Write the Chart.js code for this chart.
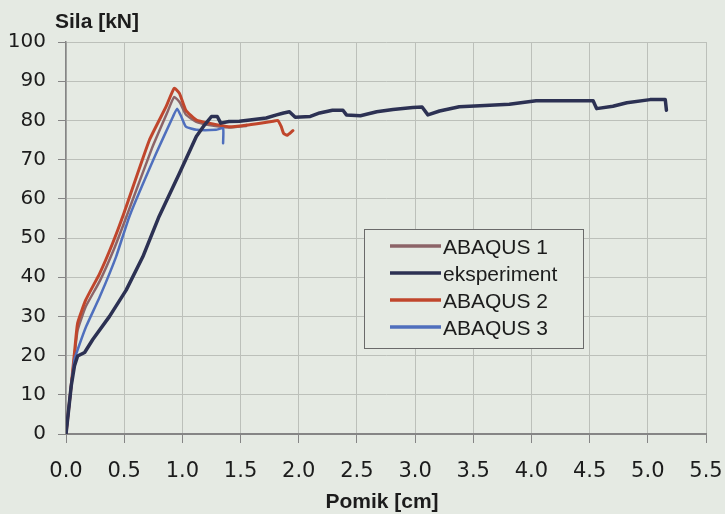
<!DOCTYPE html>
<html><head><meta charset="utf-8">
<script src="https://cdn.jsdelivr.net/npm/chart.js@4/dist/chart.umd.min.js"></script>
<style>html,body{margin:0;padding:0;background:#e5eae3;} canvas{display:block}</style>
</head><body>
<canvas id="c" width="725" height="514"></canvas>
<script>
// ---- data ----
const seriesNames = ['ABAQUS 1', 'eksperiment', 'ABAQUS 2', 'ABAQUS 3'];

const abaqus1X = [0, 0.04, 0.073, 0.10, 0.17, 0.29, 0.41, 0.52, 0.74, 0.87, 0.93, 0.98, 1.03, 1.12, 1.23, 1.40, 1.55];
const abaqus1Y = [0, 11, 20, 26.5, 32.5, 39, 47, 55.5, 73, 82, 86, 84.5, 81.5, 79.6, 78.8, 78.2, 78.6];

const expX = [0, 0.045, 0.073, 0.10, 0.16, 0.23, 0.374, 0.517, 0.66, 0.80, 0.975, 1.12, 1.19, 1.25, 1.30, 1.33, 1.40, 1.49, 1.58, 1.72, 1.81, 1.87, 1.92, 1.97, 2.10, 2.18, 2.29, 2.38, 2.41, 2.53, 2.67, 2.81, 2.98, 3.06, 3.11, 3.21, 3.38, 3.60, 3.81, 4.04, 4.30, 4.53, 4.56, 4.70, 4.82, 5.02, 5.15, 5.16];
const expY = [0, 12.3, 17.4, 19.9, 20.8, 24.1, 30, 36.7, 45.2, 55.5, 66.5, 75.9, 78.8, 81, 81, 79.3, 79.7, 79.8, 80.1, 80.6, 81.4, 81.9, 82.2, 80.8, 81, 81.9, 82.6, 82.6, 81.4, 81.2, 82.2, 82.8, 83.3, 83.4, 81.4, 82.4, 83.5, 83.8, 84.1, 85, 85, 85, 83, 83.6, 84.5, 85.3, 85.3, 82.6];

const abaqus2X = [0, 0.04, 0.073, 0.10, 0.17, 0.29, 0.40, 0.50, 0.717, 0.86, 0.93, 0.975, 1.03, 1.12, 1.23, 1.40, 1.55, 1.67, 1.78, 1.82, 1.85, 1.87, 1.90, 1.95];
const abaqus2Y = [0, 11, 20.8, 28.3, 34.2, 41, 48.6, 56.5, 75, 83.5, 88.2, 86.9, 82.6, 80.1, 79.3, 78.4, 78.8, 79.3, 79.8, 80, 78.4, 76.7, 76.2, 77.4];

const abaqus3X = [0, 0.04, 0.073, 0.10, 0.173, 0.29, 0.43, 0.545, 0.775, 0.92, 0.955, 0.99, 1.03, 1.12, 1.29, 1.35, 1.35];
const abaqus3Y = [0, 11, 19, 21.5, 27.4, 35, 45.2, 55.5, 71.6, 81, 83, 81, 78.4, 77.6, 77.6, 78, 74.2];

const xTickLabels = ['0.0', '0.5', '1.0', '1.5', '2.0', '2.5', '3.0', '3.5', '4.0', '4.5', '5.0', '5.5'];
const yTickLabels = ['0', '10', '20', '30', '40', '50', '60', '70', '80', '90', '100'];
const xAxisTitle = 'Pomik [cm]';
const yAxisTitle = 'Sila [kN]';

// ---- build ----
function pts(xs, ys) { return xs.map((x, i) => ({x: x, y: ys[i]})); }

const BG = '#e5eae3';
const TXT = '#1c1c1c';
const AXIS = '#858585';
const GRID = '#bcc0ba';

const datasets = [
  {label: seriesNames[0], data: pts(abaqus1X, abaqus1Y), borderColor: '#8c6468', borderWidth: 2.5, order: 3, tension: 0.15},
  {label: seriesNames[1], data: pts(expX, expY), borderColor: '#2c3153', borderWidth: 3.5, order: 0, tension: 0},
  {label: seriesNames[2], data: pts(abaqus2X, abaqus2Y), borderColor: '#c0462c', borderWidth: 3, order: 2, tension: 0.15},
  {label: seriesNames[3], data: pts(abaqus3X, abaqus3Y), borderColor: '#4f6fbd', borderWidth: 2.5, order: 1, tension: 0.15}
];
datasets.forEach(d => { d.showLine = true; d.pointRadius = 0; d.fill = false; d.borderJoinStyle = 'round'; d.borderCapStyle = 'round'; });

const bgPlugin = {
  id: 'bg',
  beforeDraw(chart) {
    const ctx = chart.ctx;
    ctx.save(); ctx.fillStyle = BG; ctx.fillRect(0, 0, chart.width, chart.height); ctx.restore();
  }
};

const decorPlugin = {
  id: 'decor',
  afterDraw(chart) {
    const ctx = chart.ctx;
    const ca = chart.chartArea;
    ctx.save();
    ctx.fillStyle = TXT;
    ctx.font = 'bold 21px "Liberation Sans", Arial, sans-serif';
    ctx.textAlign = 'left'; ctx.textBaseline = 'alphabetic';
    ctx.fillText(yAxisTitle, ca.left - 11, 28);
    ctx.textAlign = 'center';
    ctx.fillText(xAxisTitle, (ca.left + ca.right) / 2 - 4, 508);
    // legend box
    const bx = 364.5, by = 229.5, bw = 219, bh = 119;
    ctx.fillStyle = BG;
    ctx.fillRect(bx, by, bw, bh);
    ctx.strokeStyle = '#6a6a6a'; ctx.lineWidth = 1;
    ctx.strokeRect(bx, by, bw, bh);
    ctx.font = '21px "Liberation Sans", Arial, sans-serif';
    ctx.textAlign = 'left'; ctx.textBaseline = 'alphabetic';
    chart.data.datasets.forEach((d, i) => {
      const y = 246 + 27 * i;
      ctx.strokeStyle = d.borderColor; ctx.lineWidth = 3.5; ctx.lineCap = 'butt';
      ctx.beginPath(); ctx.moveTo(390, y); ctx.lineTo(441, y); ctx.stroke();
      ctx.fillStyle = TXT;
      ctx.fillText(d.label, 443, y + 7.5);
    });
    ctx.restore();
  }
};

new Chart(document.getElementById('c'), {
  type: 'scatter',
  data: {datasets: datasets},
  options: {
    responsive: false,
    devicePixelRatio: 1,
    animation: false,
    layout: {padding: {top: 42, right: 19, left: 0, bottom: 0}},
    plugins: {legend: {display: false}, tooltip: {enabled: false}, title: {display: false}},
    scales: {
      x: {
        type: 'linear', min: 0, max: 5.5,
        afterFit(s) { s.height = 80; s.paddingRight = 0; s.paddingLeft = 0; },
        ticks: {stepSize: 0.5, color: TXT, padding: 16, maxRotation: 0, autoSkip: false,
          font: {family: '"DejaVu Sans", sans-serif', size: 21},
          callback: (v, i) => xTickLabels[i]},
        grid: {color: GRID, lineWidth: 1, tickLength: 9, tickColor: AXIS, drawTicks: true},
        border: {color: AXIS, width: 2}
      },
      y: {
        type: 'linear', min: 0, max: 100,
        afterFit(s) { s.width = 66; s.paddingTop = 0; s.paddingBottom = 0; },
        ticks: {stepSize: 10, color: TXT, padding: 12, autoSkip: false,
          font: {family: '"DejaVu Sans", sans-serif', size: 20},
          callback: (v, i) => yTickLabels[i]},
        grid: {color: GRID, lineWidth: 1, tickLength: 8, tickColor: AXIS, drawTicks: true},
        border: {color: AXIS, width: 1.5}
      }
    }
  },
  plugins: [bgPlugin, decorPlugin]
});
</script>
</body></html>
